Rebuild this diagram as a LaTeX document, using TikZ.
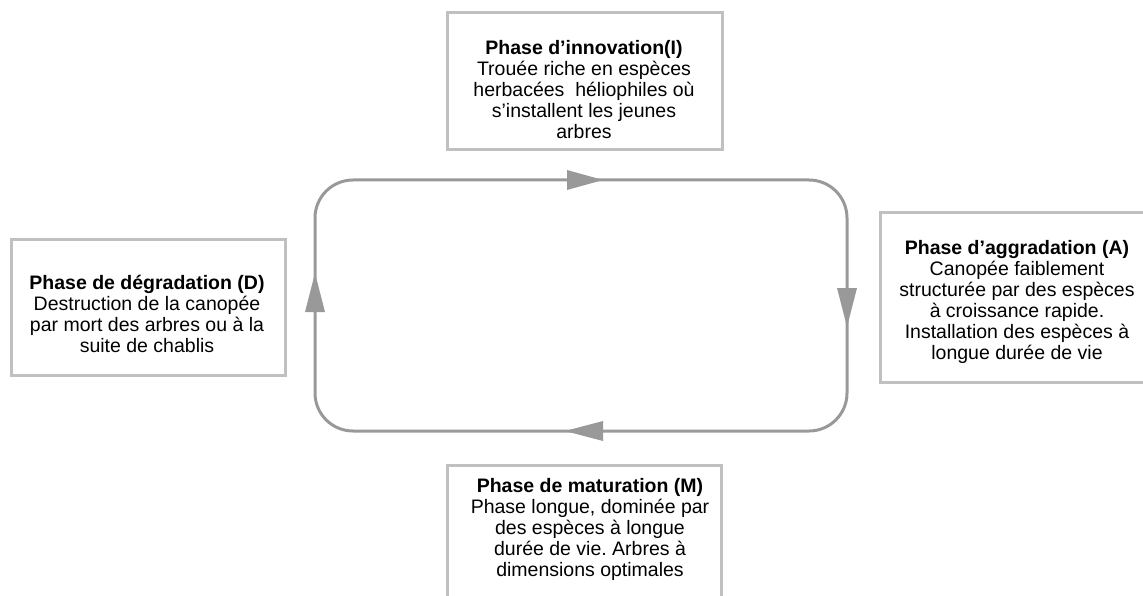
\documentclass[tikz,border=0pt]{standalone}
\usepackage{fontspec}
\setmainfont{Liberation Sans}
\begin{document}
\frenchspacing
\begin{tikzpicture}[x=1pt,y=-1pt,
  boxframe/.style={draw=boxgray,line width=3pt},
  phasetext/.style={align=center,inner sep=0pt,font=\fontsize{19.5}{21}\selectfont},
  loopline/.style={draw=loopgray,line width=3pt,rounded corners=38pt},
  tiphead/.style={fill=loopgray}]
\definecolor{boxgray}{HTML}{C0C0C0}
\definecolor{loopgray}{HTML}{999999}
\useasboundingbox (0,0) rectangle (1143,596);
\clip (0,0) rectangle (1143,596);
% boxes
\draw[boxframe] (447,13) rectangle (722,150);
\draw[boxframe] (880,213) rectangle (1150,382);
\draw[boxframe] (11,239) rectangle (285,375);
\draw[boxframe] (447,465) rectangle (721,610);
% texts
\node[phasetext] (inno) at (584,90) {\textbf{Phase d’innovation(I)}\\Trouée riche en espèces\\herbacées\ \ héliophiles où\\s’installent les jeunes\\arbres};
\node[phasetext] (aggr) at (1017,302) {\textbf{Phase d’aggradation (A)}\\Canopée faiblement\\structurée par des espèces\\à croissance rapide.\\Installation des espèces à\\longue durée de vie};
\node[phasetext] (degr) at (147,314) {\textbf{Phase de dégradation (D)}\\Destruction de la canopée\\par mort des arbres ou à la\\suite de chablis};
\node[phasetext] (matu) at (590,529) {\textbf{Phase de maturation (M)}\\Phase longue, dominée par\\des espèces à longue\\durée de vie. Arbres à\\dimensions optimales};
% loop
\coordinate (tl) at (315,180);
\coordinate (tr) at (847,180);
\coordinate (br) at (847,431);
\coordinate (bl) at (315,431);
\draw[loopline] (tl) -- (tr) -- (br) -- (bl) -- cycle;
% arrowheads
\fill[tiphead] (603,180) -- (567,170) -- (567,190) -- cycle;
\fill[tiphead] (847,327) -- (837,288) -- (857,288) -- cycle;
\fill[tiphead] (565,431) -- (603,421) -- (603,441) -- cycle;
\fill[tiphead] (315,273) -- (305,312) -- (325,312) -- cycle;
\end{tikzpicture}
\end{document}
